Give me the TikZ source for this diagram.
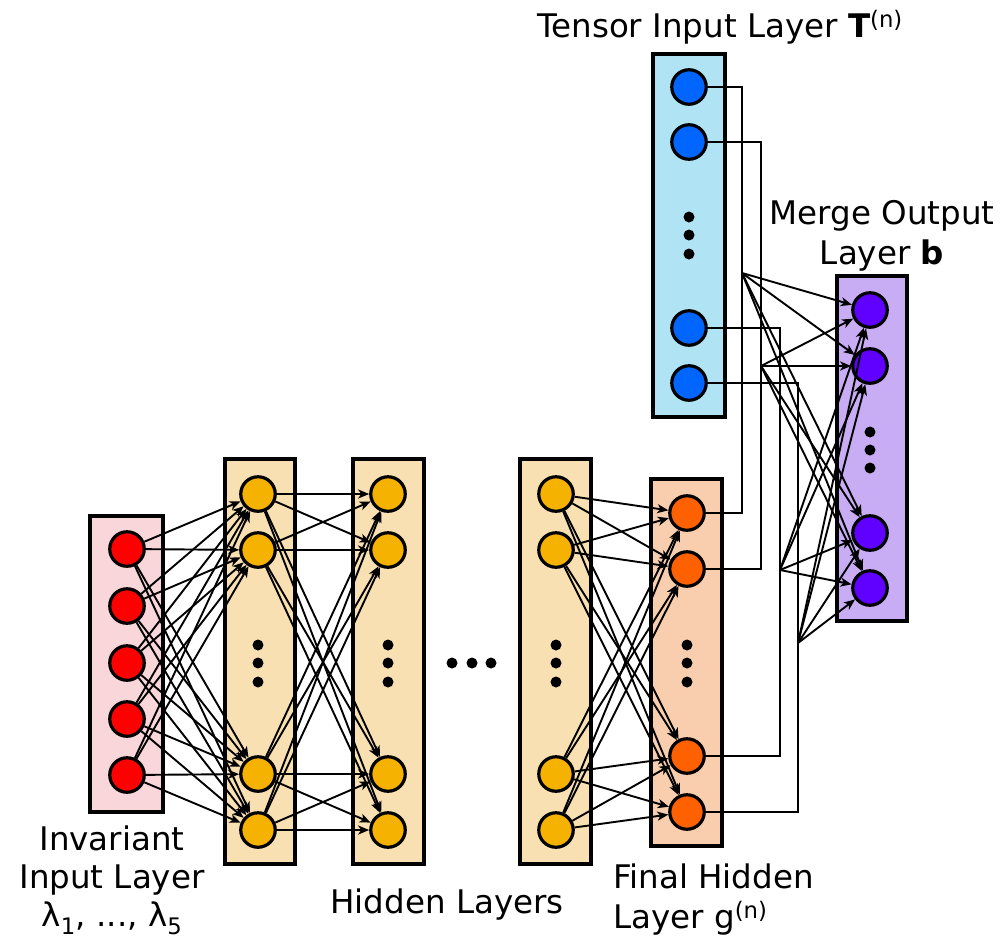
\documentclass[tikz,border=0pt]{standalone}
\usepackage{fontspec}
\setmainfont{DejaVu Sans}
\usetikzlibrary{arrows.meta}
\pgfdeclarelayer{bg}
\pgfsetlayers{bg,main}
\definecolor{redn}{RGB}{255,0,0}
\definecolor{redbox}{RGB}{248,214,218}
\definecolor{yeln}{RGB}{246,178,0}
\definecolor{yelbox}{RGB}{248,224,178}
\definecolor{orn}{RGB}{255,96,0}
\definecolor{orbox}{RGB}{248,206,174}
\definecolor{bluen}{RGB}{0,102,255}
\definecolor{bluebox}{RGB}{176,228,244}
\definecolor{vion}{RGB}{96,0,255}
\definecolor{viobox}{RGB}{200,172,244}
\begin{document}
\begin{tikzpicture}[x=1pt,y=-1pt,
  neuron/.style={circle,draw=black,line width=3.2pt,minimum size=34.5pt,inner sep=0pt},
  layerbox/.style={draw=black,line width=4pt,inner sep=0pt},
  conn/.style={line width=1.9pt,-{Stealth[length=11pt,width=9pt,inset=3pt]}},
  wire/.style={line width=1.9pt},
  lbl/.style={font=\fontsize{32.5}{40}\selectfont,inner sep=0pt},
  dotc/.style={circle,fill=black,inner sep=0pt,minimum size=11pt}
]
\useasboundingbox (0,0) rectangle (1000,940);
\begin{pgfonlayer}{bg}
\node[layerbox,fill=redbox,minimum width=73,minimum height=296] (boxR) at (126.5,664) {};
\node[layerbox,fill=yelbox,minimum width=70,minimum height=405] (boxA) at (260,661.5) {};
\node[layerbox,fill=yelbox,minimum width=71,minimum height=405] (boxB) at (388.5,661.5) {};
\node[layerbox,fill=yelbox,minimum width=71,minimum height=405] (boxC) at (555.5,661.5) {};
\node[layerbox,fill=orbox,minimum width=71,minimum height=367] (boxG) at (686.5,662.5) {};
\node[layerbox,fill=bluebox,minimum width=72,minimum height=363] (boxT) at (689,235.5) {};
\node[layerbox,fill=viobox,minimum width=70,minimum height=345] (boxO) at (872,448.5) {};
\end{pgfonlayer}
% input layer
\foreach \i/\y in {1/549,2/606,3/663,4/719,5/775}
  \node[neuron,fill=redn] (r\i) at (127,\y) {};
% hidden layers
\foreach \i/\y in {1/494,2/550,3/774,4/830}{
  \node[neuron,fill=yeln] (a\i) at (258,\y) {};
  \node[neuron,fill=yeln] (b\i) at (388,\y) {};
  \node[neuron,fill=yeln] (c\i) at (556,\y) {};
}
% final hidden layer
\foreach \i/\y in {1/513,2/569,3/756,4/812}
  \node[neuron,fill=orn] (g\i) at (687,\y) {};
% tensor layer
\foreach \i/\y in {1/87,2/142,3/328,4/383}
  \node[neuron,fill=bluen] (t\i) at (689,\y) {};
% merge layer
\foreach \i/\y in {1/310,2/366,3/533,4/588}
  \node[neuron,fill=vion] (o\i) at (870,\y) {};
% ellipsis dots
\foreach \k/\y in {1/645,2/663,3/682}{
  \node[dotc] (da\k) at (258,\y) {};
  \node[dotc] (db\k) at (388,\y) {};
  \node[dotc] (dc\k) at (556,\y) {};
  \node[dotc] (dg\k) at (687,\y) {};
}
\foreach \k/\y in {1/217,2/235,3/254}
  \node[dotc] (dt\k) at (689,\y) {};
\foreach \k/\y in {1/432,2/450,3/468}
  \node[dotc] (do\k) at (870,\y) {};
\foreach \k/\x in {1/452,2/472,3/491}
  \node[dotc] (dh\k) at (\x,663) {};
% connections
\foreach \i in {1,...,5}
  \foreach \j in {1,...,4}
    \draw[conn] (r\i) -- (a\j);
\foreach \i in {1,...,4}
  \foreach \j in {1,...,4}{
    \draw[conn] (a\i) -- (b\j);
    \draw[conn] (c\i) -- (g\j);
  }
% merge wiring
\coordinate (f1) at (742,273);
\coordinate (f2) at (761,366);
\coordinate (f3) at (780,570);
\coordinate (f4) at (798,643);
\foreach \i in {1,...,4}{
  \draw[wire] (t\i.east) -| (f\i) |- (g\i.east);
  \foreach \j in {1,...,4}
    \draw[conn] (f\i) -- (o\j);
}
% labels
\node[lbl,anchor=base] (ltensor) at (720,37) {Tensor Input Layer \textbf{T}\textsuperscript{(n)}};
\node[lbl,anchor=base,align=center] (lmerge) at (882,264) {Merge Output\\Layer \textbf{b}};
\node[lbl,anchor=base,align=center,font=\fontsize{32.5}{38}\selectfont] (linv) at (112,926) {Invariant\\Input Layer\\λ\textsubscript{1}, ..., λ\textsubscript{5}};
\node[lbl,anchor=base] (lhid) at (447,913) {Hidden Layers};
\node[lbl,anchor=base west,align=left] (lfin) at (613,928) {Final Hidden\\Layer g\textsuperscript{(n)}};
\end{tikzpicture}
\end{document}
